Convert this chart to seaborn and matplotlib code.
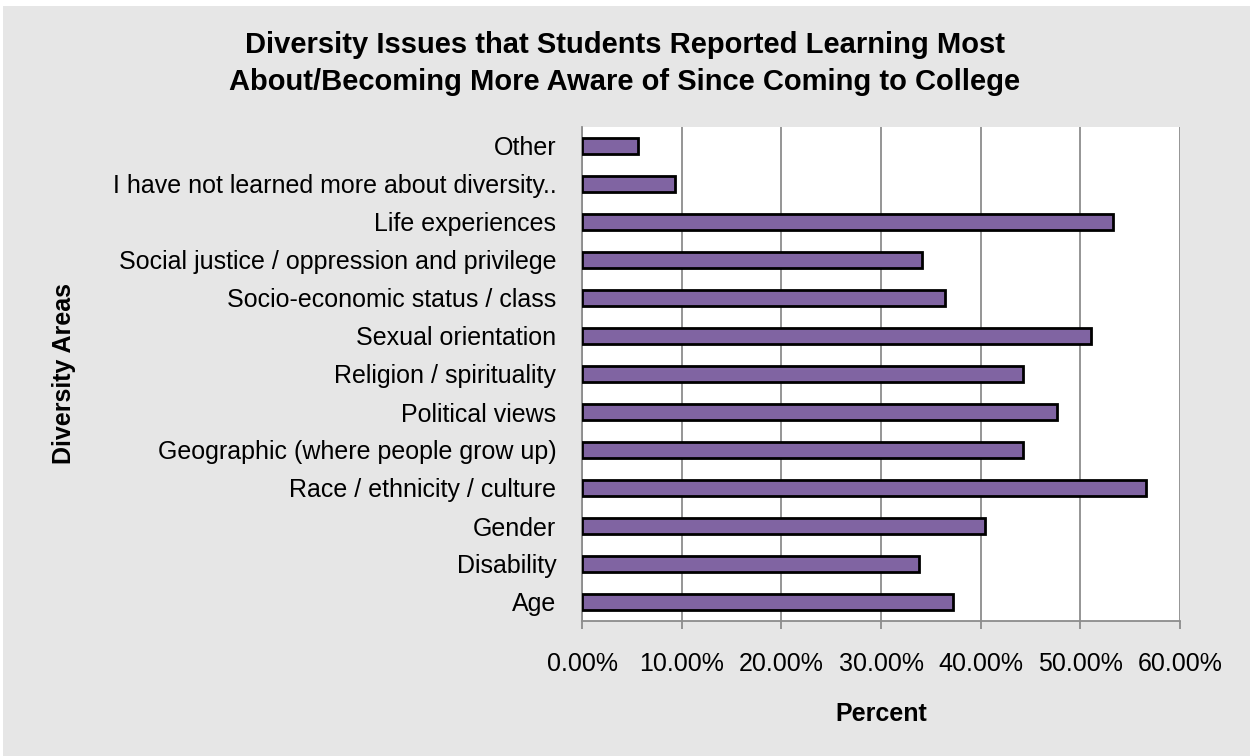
import matplotlib
matplotlib.use('Agg')
import matplotlib.pyplot as plt
import seaborn as sns
from matplotlib.patches import Rectangle
from matplotlib.ticker import FuncFormatter, MultipleLocator

# Categories, listed top to bottom as in the chart
areas = ['Other',
         'I have not learned more about diversity..',
         'Life experiences',
         'Social justice / oppression and privilege',
         'Socio-economic status / class',
         'Sexual orientation',
         'Religion / spirituality',
         'Political views',
         'Geographic (where people grow up)',
         'Race / ethnicity / culture',
         'Gender',
         'Disability',
         'Age']
percent = [5.6, 9.3, 53.3, 34.1, 36.4, 51.1, 44.2, 47.7, 44.2, 56.6, 40.4, 33.8, 37.2]

title = ('Diversity Issues that Students Reported Learning Most\n'
         'About/Becoming More Aware of Since Coming to College')

sns.set_style("white")
plt.rcParams['font.family'] = ['Liberation Sans', 'DejaVu Sans']
plt.rcParams['text.color'] = 'black'
plt.rcParams['axes.labelcolor'] = 'black'

bg = '#e6e6e6'
W, H = 1250, 756
fig = plt.figure(figsize=(12.5, 7.56), dpi=100, facecolor='white')
# gray chart area with a thin white margin at top/left like the original export
fig.patches.append(Rectangle((3 / W, 0), 1 - 3 / W, 1 - 6 / H,
                             transform=fig.transFigure, facecolor=bg,
                             edgecolor='none', zorder=-10))

ax = fig.add_axes([582 / W, 1 - 621 / H, (1180 - 582) / W, (621 - 127) / H])
ax.set_facecolor('white')

sns.barplot(x=percent, y=areas, orient='h', color='#8064a2', saturation=1,
            edgecolor='black', linewidth=2, width=0.42, ax=ax, zorder=3)

ax.set_xlim(0, 60)
ax.set_ylim(len(areas) - 0.5, -0.5)
ax.xaxis.set_major_locator(MultipleLocator(10))
ax.xaxis.set_major_formatter(FuncFormatter(lambda v, p: f'{v:.2f}%'))
ax.grid(axis='x', color='#8c8c8c', linewidth=1.3, zorder=0)
ax.grid(axis='y', visible=False)

for s in ['top', 'right']:
    ax.spines[s].set_visible(False)
for s in ['left', 'bottom']:
    ax.spines[s].set_color('#8c8c8c')
    ax.spines[s].set_linewidth(1.3)

ax.tick_params(axis='x', length=6, width=1.3, color='#8c8c8c', pad=16,
               labelsize=18, labelcolor='black', direction='out', bottom=True)
ax.tick_params(axis='y', length=0, pad=18.5, labelsize=18, labelcolor='black')

ax.set_xlabel('Percent', fontsize=18, fontweight='bold', labelpad=19)
ax.set_ylabel('Diversity Areas', fontsize=18, fontweight='bold')
ax.yaxis.set_label_coords((76 - 582) / (1180 - 582), 0.5)

fig.text(0.5, 1 - 31 / H, title, fontsize=21, fontweight='bold',
         ha='center', va='top', linespacing=1.42)

fig.savefig('out.png', dpi=100, facecolor='white')
